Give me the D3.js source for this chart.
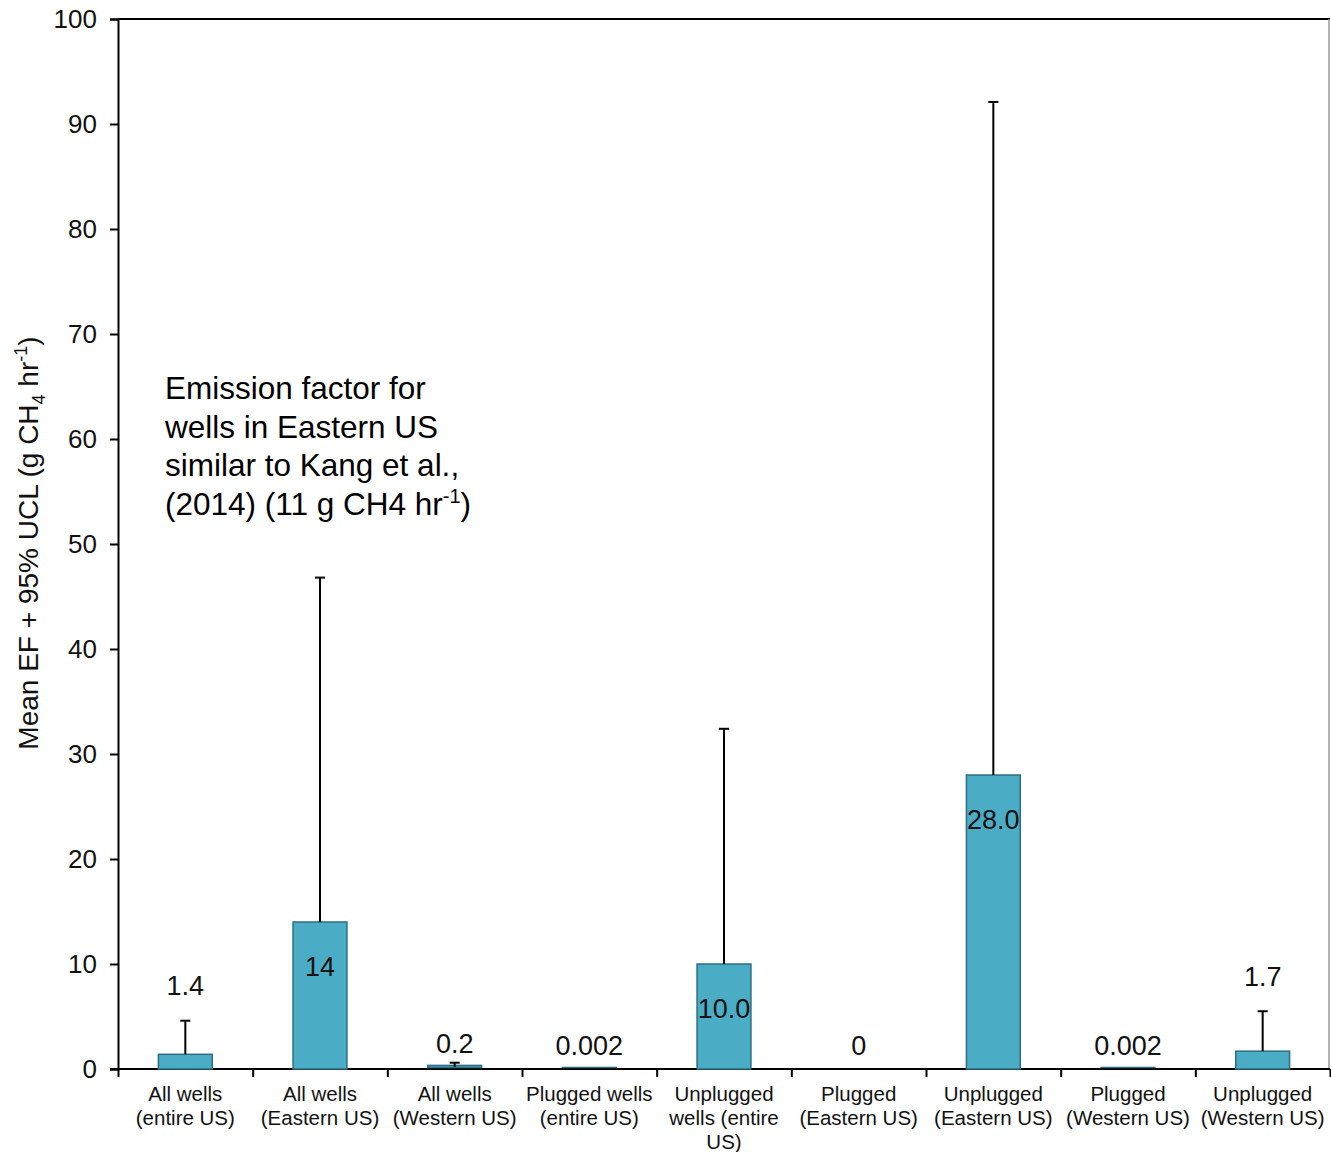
<!DOCTYPE html>
<html><head><meta charset="utf-8">
<script src="https://cdn.jsdelivr.net/npm/d3@7"></script>
<style>body{margin:0;background:#fff}svg{display:block}text{font-family:"Liberation Sans",Arial,sans-serif}</style>
</head><body>
<svg id="c" width="1331" height="1152"></svg>
<script>
const categories = [
  ["All wells","(entire US)"],
  ["All wells","(Eastern US)"],
  ["All wells","(Western US)"],
  ["Plugged wells","(entire US)"],
  ["Unplugged","wells (entire","US)"],
  ["Plugged","(Eastern US)"],
  ["Unplugged","(Eastern US)"],
  ["Plugged","(Western US)"],
  ["Unplugged","(Western US)"]
];
const meanEF = [1.4, 14, 0.2, 0.002, 10.0, 0, 28.0, 0.002, 1.7];
const upperCL = [4.6, 46.8, 0.6, 0.002, 32.4, 0, 92.1, 0.002, 5.5];
const valueLabels = ["1.4","14","0.2","0.002","10.0","0","28.0","0.002","1.7"];
const labelInside = [false,true,false,false,true,false,true,false,false];
const yTicks = [0,10,20,30,40,50,60,70,80,90,100];

const svg = d3.select("#c");
const L = 118, R = 1330, T = 19, B = 1069;
const x = d3.scaleBand().domain(d3.range(categories.length)).range([L, R]).paddingInner(0.6).paddingOuter(0.3);
const xb = d3.scaleLinear().domain([0, categories.length]).range([L, R]);
const y = d3.scaleLinear().domain([0, 100]).range([B, T]);

// frame top & right
svg.append("line").attr("x1", L).attr("x2", R).attr("y1", T).attr("y2", T).attr("stroke", "#000").attr("stroke-width", 2);
svg.append("line").attr("x1", R - 1).attr("x2", R - 1).attr("y1", T).attr("y2", B).attr("stroke", "#999").attr("stroke-width", 1.5);

// y axis
const ya = svg.append("g").attr("transform", `translate(${L},0)`)
  .call(d3.axisLeft(y).tickValues(yTicks).tickSize(8).tickPadding(13));
ya.select(".domain").attr("stroke", "#000").attr("stroke-width", 2);
ya.selectAll(".tick line").attr("stroke", "#000").attr("stroke-width", 2);
ya.selectAll(".tick text").attr("font-size", 26).attr("fill", "#111").attr("font-family", '"Liberation Sans",Arial,sans-serif');

// x axis
const xa = svg.append("g").attr("transform", `translate(0,${B})`)
  .call(d3.axisBottom(xb).tickValues(d3.range(0, categories.length + 1)).tickSize(8).tickFormat(""));
xa.select(".domain").attr("stroke", "#000").attr("stroke-width", 2).attr("d", `M${L - 8},0H${R}`);
xa.selectAll(".tick line").attr("stroke", "#000").attr("stroke-width", 2);

// bars
const bw = x.bandwidth();
svg.selectAll("rect.bar").data(meanEF).join("rect")
  .attr("x", (d, i) => x(i)).attr("width", bw)
  .attr("y", d => y(d) - (d > 0 && d < 0.5 ? 1.5 : 0)).attr("height", d => B - y(d))
  .attr("fill", "#4BACC6").attr("stroke", "#2E6E80").attr("stroke-width", d => d > 0 ? 1.5 : 0);

// error bars
const eg = svg.append("g").attr("stroke", "#000").attr("stroke-width", 2);
meanEF.forEach((d, i) => {
  if (upperCL[i] <= d) return;
  const cx = x(i) + bw / 2;
  eg.append("line").attr("x1", cx).attr("x2", cx).attr("y1", y(d)).attr("y2", y(upperCL[i]));
  eg.append("line").attr("x1", cx - 5).attr("x2", cx + 5).attr("y1", y(upperCL[i])).attr("y2", y(upperCL[i]));
});

// category labels
categories.forEach((lines, i) => {
  const t = svg.append("text").attr("text-anchor", "middle").attr("font-size", 20.5).attr("fill", "#111")
    .attr("x", x(i) + bw / 2).attr("y", 1101);
  lines.forEach((s, k) => t.append("tspan").attr("x", x(i) + bw / 2).attr("dy", k === 0 ? 0 : 24).text(s));
});

// value labels
meanEF.forEach((d, i) => {
  let yy;
  if (labelInside[i]) yy = y(d) + 44;
  else if (upperCL[i] - d > 1) yy = y(upperCL[i]) - 35;
  else yy = y(d) - 24;
  svg.append("text").attr("text-anchor", "middle").attr("font-size", 27).attr("fill", "#111")
    .attr("x", x(i) + bw / 2).attr("y", yy).attr("dy", "0.36em").text(valueLabels[i]);
});

// y title
const yt = svg.append("text").attr("transform", "translate(38,543) rotate(-90)").attr("text-anchor", "middle")
  .attr("font-size", 28).attr("fill", "#111");
yt.append("tspan").text("Mean EF + 95% UCL (g CH");
yt.append("tspan").attr("font-size", 18).attr("dy", 7).text("4");
yt.append("tspan").attr("dy", -7).text(" hr");
yt.append("tspan").attr("font-size", 18).attr("dy", -11).text("-1");
yt.append("tspan").attr("dy", 11).text(")");

// annotation
const ann = ["Emission factor for", "wells in Eastern US", "similar to Kang et al.,"];
const at = svg.append("text").attr("font-size", 31.5).attr("fill", "#000");
ann.forEach((s, k) => at.append("tspan").attr("x", 165).attr("y", 399 + k * 38.5).text(s));
const l4 = svg.append("text").attr("font-size", 31.5).attr("fill", "#000").attr("x", 165).attr("y", 399 + 3 * 38.5);
l4.append("tspan").text("(2014) (11 g CH4 hr");
l4.append("tspan").attr("font-size", 20).attr("dy", -12).text("-1");
l4.append("tspan").attr("dy", 12).text(")");
</script>
</body></html>
